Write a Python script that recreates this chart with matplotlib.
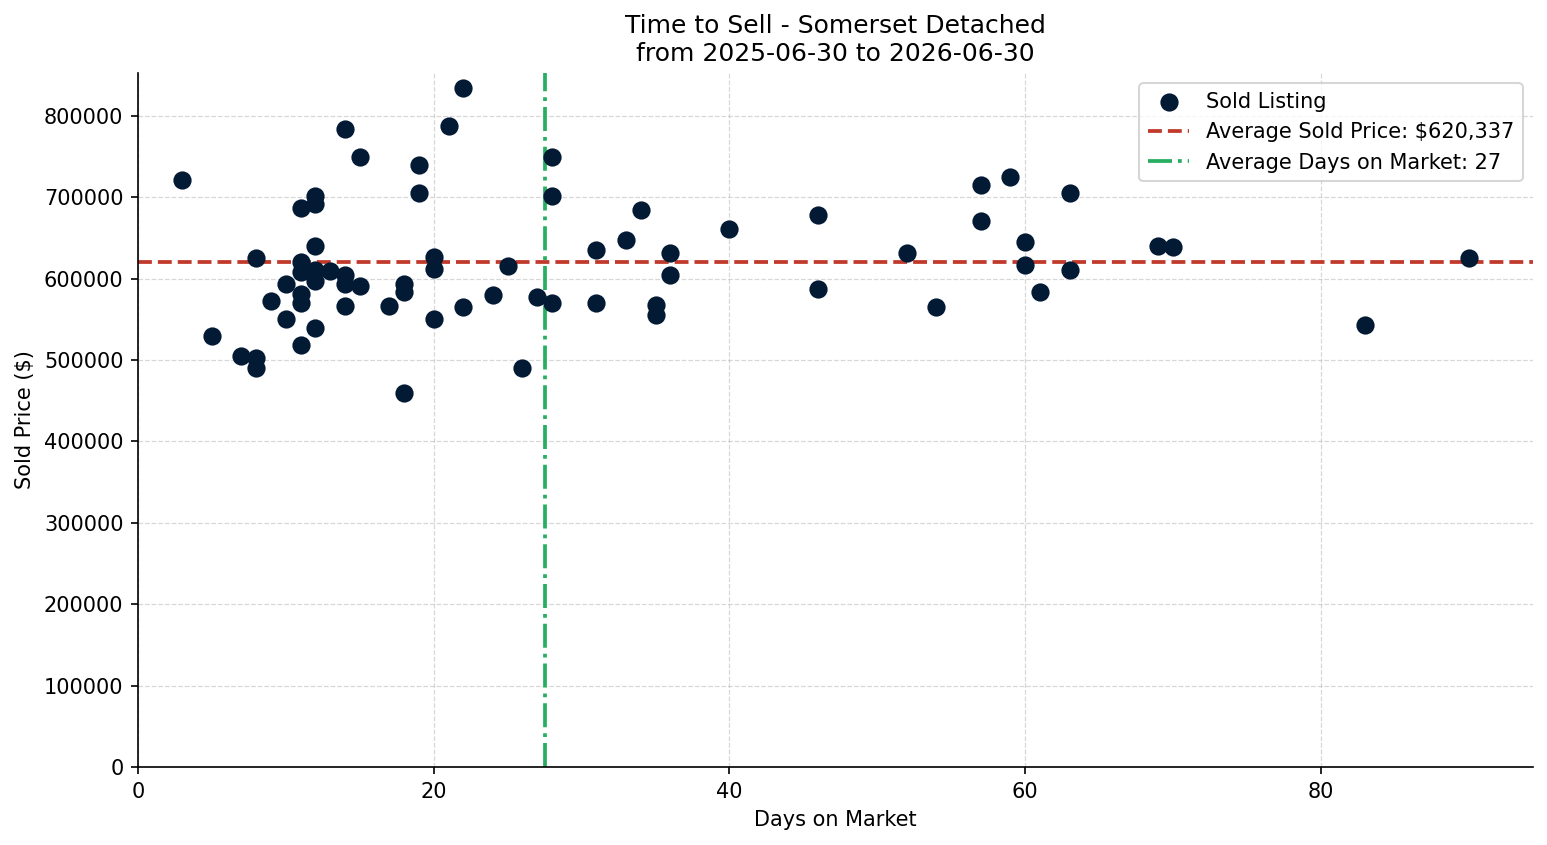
import matplotlib
matplotlib.use('Agg')
import matplotlib.pyplot as plt

# data
days = [3, 5, 7, 8, 8, 8, 9, 10, 10,
        11, 11, 11, 11, 11, 11,
        12, 12, 12, 12, 12, 12,
        13, 14, 14, 14, 14, 15, 15, 17, 18, 18, 18, 19, 19,
        20, 20, 20, 21, 22, 22, 24, 25, 26, 27, 28, 28, 28,
        31, 31, 33, 34, 35, 35, 36, 36, 40, 46, 46, 52, 54,
        57, 57, 59, 60, 60, 61, 63, 63, 69, 70, 83, 90]
prices = [721000, 530000, 505000, 625000, 502000, 490000, 572000, 594000, 551000,
          687000, 621000, 608000, 581000, 570000, 519000,
          701000, 692000, 640000, 611000, 597000, 540000,
          610000, 784000, 605000, 594000, 567000, 749000, 591000, 567000, 594000, 584000, 460000, 740000, 705000,
          627000, 612000, 550000, 787000, 834000, 565000, 580000, 615000, 490000, 577000, 749000, 701000, 570000,
          635000, 570000, 647000, 684000, 568000, 555000, 632000, 605000, 661000, 678000, 587000, 632000, 565000,
          715000, 671000, 725000, 645000, 617000, 584000, 705000, 611000, 640000, 639000, 543000, 625000]
avg_price = 620337
avg_days = 27.5

NAVY = '#031a35'; RED = '#c0392b'; GREEN = '#27ae60'

fig, ax = plt.subplots(figsize=(1547/150, 845/150), dpi=150)
ax.scatter(days, prices, s=60, color=NAVY, zorder=3, label='Sold Listing')
ax.axhline(avg_price, color=RED, ls='--', lw=1.8, label=f'Average Sold Price: ${avg_price:,.0f}')
ax.axvline(avg_days, color=GREEN, ls='-.', lw=1.8, label=f'Average Days on Market: {int(avg_days)}')
ax.set_xlim(left=0)
ax.set_ylim(bottom=0)
ax.set_title('Time to Sell - Somerset Detached\nfrom 2025-06-30 to 2026-06-30', fontsize=12)
ax.set_xlabel('Days on Market')
ax.set_ylabel('Sold Price ($)')
ax.grid(True, ls='--', lw=0.6, alpha=0.5)
ax.set_axisbelow(True)
ax.spines['top'].set_visible(False); ax.spines['right'].set_visible(False)
ax.legend(loc='upper right', fontsize=10)
plt.subplots_adjust(left=0.0892, right=0.991, top=0.9136, bottom=0.0923)
plt.savefig('out.png', dpi=150)
